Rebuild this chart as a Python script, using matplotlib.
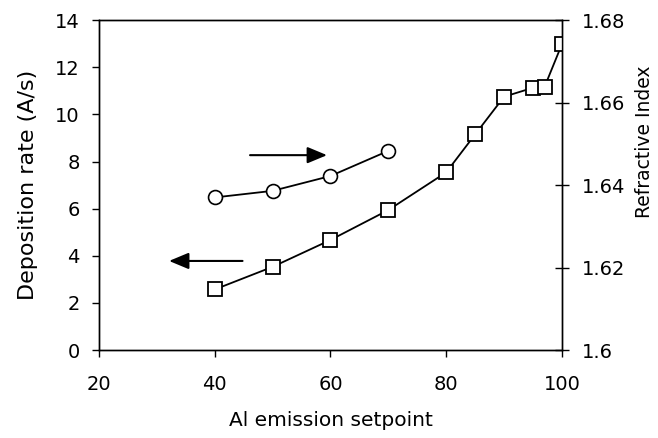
import matplotlib
matplotlib.use("Agg")
import matplotlib.pyplot as plt

plt.rcParams['font.family'] = ['DejaVu Sans']

# Deposition rate (left axis, squares)
rate_x = [40, 50, 60, 70, 80, 85, 90, 95, 97, 100]
rate_y = [2.57, 3.53, 4.67, 5.94, 7.54, 9.15, 10.75, 11.13, 11.17, 12.98]

# Refractive index (right axis, circles)
ri_x = [40, 50, 60, 70]
ri_y = [1.6370, 1.6386, 1.6422, 1.6483]

x_ticks = [20, 40, 60, 80, 100]
left_ticks = [0, 2, 4, 6, 8, 10, 12, 14]
right_ticks = [1.6, 1.62, 1.64, 1.66, 1.68]
right_labels = ['1.6', '1.62', '1.64', '1.66', '1.68']

fig = plt.figure(figsize=(6.58, 4.38), dpi=100)
ax = fig.add_axes([0.1505, 0.2009, 0.7035, 0.7531])
ax2 = ax.twinx()

ax.plot(rate_x, rate_y, color='black', lw=1.3, marker='s', ms=10.5,
        mfc='white', mec='black', mew=1.3, zorder=3)
ax2.plot(ri_x, ri_y, color='black', lw=1.3, marker='o', ms=10,
         mfc='white', mec='black', mew=1.2, zorder=3)

ax.set_xlim(20, 100)
ax.set_ylim(0, 14)
ax2.set_ylim(1.6, 1.68)
ax.set_xticks(x_ticks)
ax.set_yticks(left_ticks)
ax2.set_yticks(right_ticks)
ax2.set_yticklabels(right_labels)

fs_tick = 14
ax.tick_params(axis='both', direction='out', length=5, width=1, labelsize=fs_tick)
ax.tick_params(axis='x', pad=13)
ax.tick_params(axis='y', pad=9)
ax2.tick_params(axis='y', direction='inout', length=10, width=1,
                labelsize=fs_tick, pad=9)

for a in (ax, ax2):
    for s in a.spines.values():
        s.set_linewidth(1.0)
        s.set_color('black')

ax.set_xlabel('Al emission setpoint', fontsize=14.5, labelpad=12)
ax.set_ylabel('Deposition rate (A/s)', fontsize=16, labelpad=12)
ax2.set_ylabel('Refractive Index', fontsize=13.5)
ax2.yaxis.set_label_coords(1.158, 0.63)

# Arrows indicating axis association
arrow_style = '-|>,head_length=0.6,head_width=0.25'
ax.annotate('', xy=(59.4, 8.27), xytext=(46.1, 8.27),
            arrowprops=dict(arrowstyle=arrow_style, color='black', lw=1.5,
                            mutation_scale=20, shrinkA=0, shrinkB=0))
ax.annotate('', xy=(32.1, 3.78), xytext=(44.8, 3.78),
            arrowprops=dict(arrowstyle=arrow_style, color='black', lw=1.5,
                            mutation_scale=20, shrinkA=0, shrinkB=0))

fig.savefig('out.png', dpi=100)
